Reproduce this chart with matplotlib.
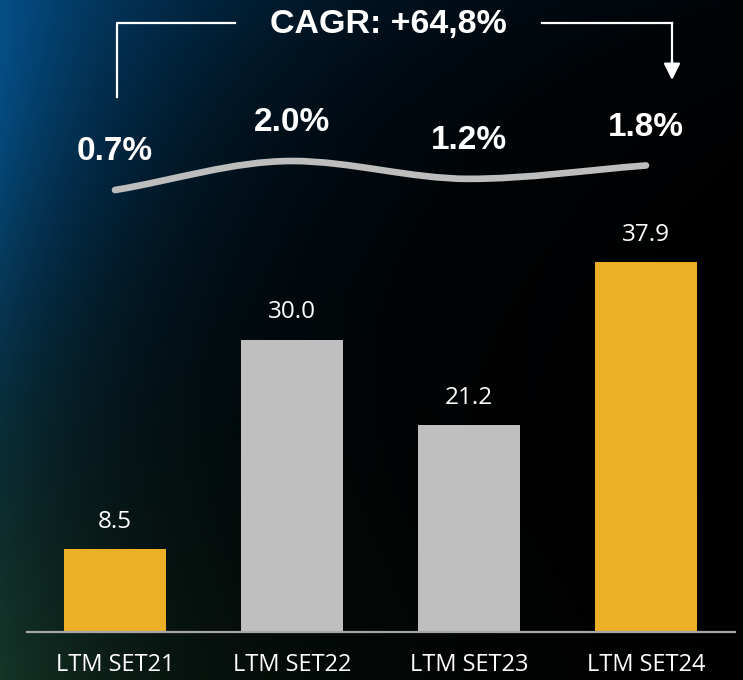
import numpy as np
import matplotlib
matplotlib.use("Agg")
import matplotlib.pyplot as plt
from matplotlib.path import Path
from matplotlib.patches import PathPatch

categories = ["LTM SET21", "LTM SET22", "LTM SET23", "LTM SET24"]
values = [8.5, 30.0, 21.2, 37.9]
value_labels = ["8.5", "30.0", "21.2", "37.9"]
pct = [0.7, 2.0, 1.2, 1.8]
pct_labels = ["0.7%", "2.0%", "1.2%", "1.8%"]
cagr_text = "CAGR: +64,8%"

YELLOW = "#EBB025"
GRAY = "#BFBFBF"
bar_colors = [YELLOW, GRAY, GRAY, YELLOW]

W, H = 743, 680
fig = plt.figure(figsize=(W / 100, H / 100), dpi=100)

# background gradient
bg = fig.add_axes([0, 0, 1, 1], zorder=-10)
xx, yy = np.meshgrid(np.arange(W), np.arange(H))
blue_f = np.exp(-xx / (140.0 + 120.0 * np.exp(-yy / 120.0))) * np.exp(-(yy / 400.0) ** 2)
green_f = np.exp(-xx / 200.0) * np.exp(-((H - yy) / 280.0) ** 1.5)
img = np.zeros((H, W, 3))
for k, (b, g) in enumerate(zip((4, 78, 135), (20, 48, 32))):
    img[..., k] = b * blue_f + g * green_f
img = np.clip(img / 255.0, 0, 1)
bg.imshow(img, aspect="auto", extent=(0, W, H, 0))
bg.set_xlim(0, W)
bg.set_ylim(H, 0)
bg.axis("off")

# bar axes: baseline at 632 px from top, 177 px per category
px_per_unit = 9.75
left = 26.5 / W
bottom = 48 / H
width = 708 / W
height = 632 / H
ax = fig.add_axes([left, bottom, width, height])
ax.patch.set_alpha(0)
x = np.arange(len(categories))
ax.bar(x, values, width=0.576, color=bar_colors, zorder=2)
ax.set_xlim(-0.5, 3.5)
ax.set_ylim(0, 632 / px_per_unit)
for s in ["top", "right", "left"]:
    ax.spines[s].set_visible(False)
ax.spines["bottom"].set_color("#A6A6A6")
ax.spines["bottom"].set_linewidth(1.6)
ax.set_yticks([])
ax.set_xticks([])

for i, (v, lab) in enumerate(zip(values, value_labels)):
    ax.annotate(lab, (i, v), xytext=(0, 19.8), textcoords="offset points",
                ha="center", va="center", color="white", fontsize=17.5,
                family="Open Sans")
for i, c in enumerate(categories):
    ax.annotate(c, (i, 0), xycoords=("data", "axes fraction"), xytext=(0, -23.5),
                textcoords="offset points", ha="center", va="center",
                color="white", fontsize=17, family="Open Sans")

# line axes on the same rect
ax2 = fig.add_axes([left, bottom, width, height])
ax2.patch.set_alpha(0)
ax2.axis("off")
ax2.set_xlim(-0.5, 3.5)
ax2.set_ylim(-19.12, 9.22)

# smooth curve through the points (cubic Hermite as Bezier)
n = len(pct)
slopes = []
for i in range(n):
    if i == 0:
        m = pct[1] - pct[0]
    elif i == n - 1:
        m = pct[-1] - pct[-2]
    else:
        d0 = pct[i] - pct[i - 1]
        d1 = pct[i + 1] - pct[i]
        m = 0.0 if d0 * d1 <= 0 else (d0 + d1) / 2
    slopes.append(m)
verts = [(x[0], pct[0])]
codes = [Path.MOVETO]
for i in range(n - 1):
    verts += [(x[i] + 1 / 3, pct[i] + slopes[i] / 3),
              (x[i + 1] - 1 / 3, pct[i + 1] - slopes[i + 1] / 3),
              (x[i + 1], pct[i + 1])]
    codes += [Path.CURVE4] * 3
ax2.add_patch(PathPatch(Path(verts, codes), facecolor="none", edgecolor="#BDBDBD",
                        lw=4.8, capstyle="round"))
for i, (p, lab) in enumerate(zip(pct, pct_labels)):
    ax2.annotate(lab, (i, p), xytext=(0, 27.4), textcoords="offset points",
                 ha="center", va="center", color="white", fontsize=24,
                 fontweight="bold", family="Liberation Sans")

# CAGR bracket
def fy(py):
    return 1 - py / H

def fx(px):
    return px / W

lw = 1.6
fig.add_artist(plt.Line2D([fx(117.5), fx(117.5), fx(235)], [fy(97), fy(23), fy(23)],
                          color="white", lw=lw))
fig.add_artist(plt.Line2D([fx(542), fx(672)], [fy(23), fy(23)], color="white", lw=lw))
fig.text(fx(388), fy(25), cagr_text, ha="center", va="center", color="white",
         fontsize=24.5, fontweight="bold", family="Liberation Sans")
fig.add_artist(plt.Line2D([fx(672), fx(672)], [fy(23), fy(70)], color="white", lw=lw))
ax2.annotate("", xy=(fx(672), fy(80)), xycoords="figure fraction",
             xytext=(fx(672), fy(60)), textcoords="figure fraction",
             arrowprops=dict(arrowstyle="-|>,head_length=0.5,head_width=0.25",
                             color="white", lw=lw, mutation_scale=20,
                             shrinkA=0, shrinkB=0))

fig.savefig("out.png", dpi=100)
